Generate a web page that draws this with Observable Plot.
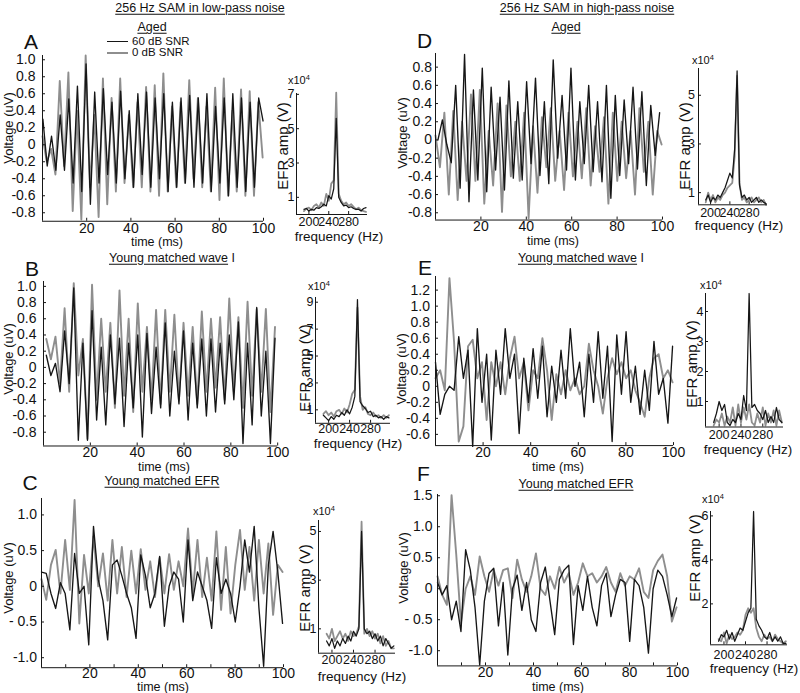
<!DOCTYPE html>
<html><head><meta charset="utf-8">
<script src="https://cdn.jsdelivr.net/npm/d3@7"></script>
<script src="https://cdn.jsdelivr.net/npm/@observablehq/plot@0.6"></script>
<style>
body{margin:0;background:#fff;}
#fig{position:relative;width:800px;height:693px;overflow:hidden;background:#fff;font-family:"Liberation Sans",Arial,Helvetica,sans-serif;color:#111;}
.t{position:absolute;white-space:nowrap;line-height:1;}
.u{text-decoration:underline;text-underline-offset:2px;}
svg{overflow:visible;}
</style></head><body><div id="fig"></div>
<script>
// ---------- DATA ----------
const STEP_MS = 1000 / 512;           // sample spacing of the traces (ms)
const TIME_DOMAIN = [0, 100];
const TIME_TICKS = [20, 40, 60, 80, 100];
const TIME_TICKS_MINOR = [10, 20, 30, 40, 50, 60, 70, 80, 90, 100];

// A: aged, low-pass noise
const agedLow60_t0 = 0.18;
const agedLow60 = [0.3,-0.25,0.1,-0.3,0.35,-0.3,0.54,-0.45,0.69,-0.55,0.95,-0.7,0.62,-0.45,0.66,-0.35,0.5,-0.45,0.63,-0.4,0.4,-0.5,0.6,-0.35,0.62,-0.5,0.55,-0.4,0.6,-0.55,0.5,-0.5,0.55,-0.45,0.58,-0.5,0.55,-0.45,0.6,-0.55,0.45,-0.45,0.55,-0.6,0.6,-0.5,0.55,-0.55,0.5,-0.5,0.55,0.28];
const agedLow0_t0 = 0;
const agedLow0 = [0.1,-0.2,-0.05,-0.35,0.75,-0.25,0.85,-0.78,0.4,-0.88,1.05,-0.5,0.35,-0.85,0.78,-0.7,0.55,-0.55,0.78,-0.45,0.35,-0.5,0.5,-0.5,0.68,-0.55,0.7,-0.6,0.84,-0.55,0.45,-0.5,0.5,-0.45,0.76,-0.4,0.55,-0.5,0.45,-0.55,0.67,-0.65,0.78,-0.6,0.4,-0.55,0.65,-0.6,0.63,-0.6,0.5,-0.15];

// B: young matched wave I, low-pass noise
const youngWaveLow60_t0 = 1.2;
const youngWaveLow60 = [0.15,-0.1,0.05,-0.3,0.45,-0.2,0.98,-0.9,0.3,-0.9,0.7,-0.65,0.25,-0.71,0.4,-0.45,0.36,-0.73,0.3,-0.5,0.4,-0.86,0.42,-0.57,0.25,-0.5,0.55,-0.6,0.2,-0.45,0.45,-0.65,0.3,-0.5,0.35,-0.6,0.35,-0.55,0.3,-0.45,0.4,-0.4,0.56,-0.94,0.3,-0.71,0.74,-0.6,0.2,-0.94,0.36];
const youngWaveLow0_t0 = 1.2;
const youngWaveLow0 = [0.35,0.1,0.38,-0.2,0.73,-0.3,1.04,-0.1,0.35,-0.88,1.02,-0.4,0.6,-0.3,0.55,-0.5,0.95,-0.35,0.6,-0.55,0.79,-0.3,0.5,-0.4,0.71,-0.45,0.71,-0.3,0.65,-0.4,0.55,-0.35,0.5,-0.45,0.69,-0.3,0.6,-0.25,0.62,-0.4,0.85,-0.3,0.62,-0.5,0.81,-0.35,0.72,-0.3,0.72,-0.55,0.5];

// C: young matched EFR, low-pass noise
const youngEfrLow60_t0 = 0;
const youngEfrLow60 = [0.2,0.18,-0.1,-0.31,0.05,-0.1,-0.61,0.46,-0.1,0.0,-0.82,0.84,0.1,-0.2,-0.75,0.3,0.37,0.15,-0.1,-0.3,-0.73,0.44,0.15,-0.3,-0.1,0.42,-0.56,0.0,0.2,0.1,-0.5,0.65,-0.2,0.2,0.0,-0.2,-0.59,0.4,-0.1,0.1,-0.1,-0.5,0.0,0.65,0.2,0.84,-0.3,-1.12,0.3,0.77,0.2,-0.52];
const youngEfrLow0_t0 = 0;
const youngEfrLow0 = [0.1,-0.19,0.3,0.51,-0.1,0.65,-0.05,1.21,-0.52,0.44,-0.1,0.7,0.0,0.46,-0.2,0.65,-0.1,0.55,-0.15,0.5,-0.1,0.52,-0.05,0.35,-0.15,0.4,-0.1,0.45,-0.05,0.35,0.0,0.81,-0.1,0.65,-0.15,0.4,-0.2,0.77,-0.33,0.55,-0.38,0.3,0.79,-0.05,0.55,-0.2,0.65,-0.1,0.6,-0.4,0.3,0.2];

// D: aged, high-pass noise
const agedHigh60_t0 = 1.08;
const agedHigh60 = [0.0,0.22,-0.05,-0.25,0.6,-0.53,0.94,-0.68,0.55,-0.44,0.79,-0.57,0.58,-0.33,0.47,-0.55,0.65,-0.42,0.42,-0.44,0.64,-0.26,0.68,-0.39,0.42,-0.48,0.88,-0.2,0.49,-0.33,0.79,-0.44,0.42,-0.26,0.6,-0.35,0.42,-0.46,0.6,-0.64,0.49,-0.39,0.44,-0.26,0.58,-0.32,0.53,-0.5,0.38,-0.17,0.3];
const agedHigh0_t0 = 0;
const agedHigh0 = [0.05,-0.3,0.3,-0.6,0.32,-0.66,0.2,-0.45,0.5,-0.45,0.55,-0.7,0.1,-0.5,0.4,-0.79,0.38,-0.4,0.2,-0.45,0.3,-0.86,0.15,-0.58,0.25,-0.3,0.35,-0.45,0.1,-0.55,0.3,-0.4,0.2,-0.42,0.35,-0.5,0.15,-0.35,0.25,-0.7,0.3,-0.45,0.2,-0.42,0.1,-0.6,0.35,-0.35,0.2,-0.6,0.1,-0.05];

// E: young matched wave I, high-pass noise
const youngWaveHigh60_t0 = 0;
const youngWaveHigh60 = [0.3,-0.35,-0.1,0.0,-0.05,0.62,0.1,0.45,-0.75,0.72,-0.2,0.4,-0.67,0.45,-0.1,0.72,0.1,0.4,-0.59,0.35,-0.2,0.47,-0.15,0.5,-0.38,0.25,-0.2,0.45,-0.15,0.72,0.0,0.3,-0.38,0.4,-0.2,0.68,-0.15,0.5,-0.69,0.64,-0.1,0.68,-0.2,0.25,-0.35,0.2,-0.3,0.56,-0.1,0.1,-0.46,0.5];
const youngWaveHigh0_t0 = 0;
const youngWaveHigh0 = [0.1,0.2,-0.05,1.35,0.55,-0.69,-0.5,0.5,0.58,0.1,0.3,-0.42,0.3,0.0,0.3,-0.1,0.35,0.62,0.1,0.3,-0.3,0.2,0.1,0.6,0.2,-0.42,0.15,-0.1,0.2,-0.05,0.1,-0.1,0.0,0.53,0.2,0.0,-0.34,0.1,0.35,0.15,0.3,0.1,0.2,-0.05,-0.2,-0.38,0.1,0.35,0.4,0.1,0.2,0.05];

// F: young matched EFR, high-pass noise
const youngEfrHigh60_t0 = 0;
const youngEfrHigh60 = [0.1,-0.1,0.05,-0.5,-0.2,-0.69,0.63,0.3,-0.3,-1.23,-0.2,0.25,0.33,-0.6,0.1,-1.07,0.0,0.22,-0.35,0.1,-0.5,-0.69,0.1,0.35,-0.2,-0.74,0.15,0.3,0.38,-0.9,0.05,-0.35,0.2,-0.3,-0.6,0.05,0.25,-0.45,-0.1,0.15,0.1,-0.85,0.15,0.05,-0.3,-1.04,0.0,0.3,0.2,-0.1,-0.45,-0.15];
const youngEfrHigh0_t0 = 0;
const youngEfrHigh0 = [0.2,-0.1,-0.26,1.51,0.55,-0.55,0.0,0.2,-0.1,0.52,0.2,-0.05,0.3,0.05,0.3,0.33,-0.15,0.47,0.15,-0.05,0.2,0.57,0.0,-0.1,0.2,0.0,0.35,0.1,0.25,-0.1,0.1,0.41,0.2,0.25,0.1,0.2,0.35,0.1,-0.05,0.25,0.05,0.2,0.15,0.33,-0.05,-0.15,0.3,0.45,0.55,0.2,-0.53,-0.3];

// Spectra (EFR amplitude, x10^4 V)
const freqHz = [190,195,200,205,210,215,220,225,230,235,240,245,250,255,260,265,270,275,280,285,290,295,300,305,310,315];
const FREQ_DOMAIN = [175, 318];
const FREQ_TICKS = [200, 240, 280];
const specA60 = [0.3,0.35,0.2,0.3,0.25,0.4,0.35,0.45,0.6,0.5,1.1,0.9,1.5,5.6,1.0,0.7,0.5,0.55,0.4,0.45,0.35,0.3,0.3,0.2,0.35,0.4];
const specA0  = [0.2,0.35,0.4,0.25,0.5,0.6,0.4,0.7,0.5,1.2,0.8,1.8,2.0,7.1,1.2,0.8,0.6,0.7,0.5,0.6,0.45,0.3,0.4,0.25,0.2,0.15];
const specB60 = [0.6,0.4,0.2,0.5,0.3,0.6,0.5,0.8,0.6,1.0,0.7,1.2,2.0,9.2,1.6,1.3,1.1,0.8,0.9,0.5,0.6,0.4,0.5,0.3,0.5,0.4];
const specB0  = [0.7,0.9,0.6,0.8,0.5,0.9,1.0,0.7,1.1,0.8,1.4,2.2,2.5,8.6,2.0,1.0,1.2,0.7,0.6,0.8,0.5,0.6,0.4,0.6,0.4,0.6];
const specC60 = [0.5,0.3,0.6,0.2,0.5,0.3,0.6,0.4,0.7,0.5,0.9,0.7,1.0,5.0,1.0,0.8,0.9,0.6,0.8,0.5,0.7,0.3,0.6,0.4,0.2,0.3];
const specC0  = [0.8,0.6,1.0,0.5,0.7,0.9,0.6,0.8,0.5,0.9,0.7,0.8,1.1,5.4,0.8,1.0,0.7,0.9,0.6,0.8,0.4,0.7,0.3,0.5,0.2,0.2];
const specD60 = [0.7,0.9,0.6,0.8,0.7,0.9,0.8,1.0,1.2,1.5,1.8,1.6,2.8,6.0,1.3,0.8,0.9,0.7,0.8,0.6,0.7,0.8,0.6,0.7,0.6,0.55];
const specD0  = [0.6,1.0,0.7,0.9,0.6,0.8,0.7,0.9,1.0,1.2,1.3,1.4,2.5,5.8,1.4,0.7,0.8,0.6,0.7,0.8,0.6,0.7,0.8,0.6,0.7,0.5];
const specE60 = [0.3,0.6,1.0,0.7,0.9,0.3,0.2,0.4,0.3,0.6,0.4,1.2,0.7,4.6,0.8,0.9,0.7,0.6,0.4,0.7,0.3,0.5,0.3,0.8,0.4,0.3];
const specE0  = [0.2,0.4,0.3,0.6,0.2,0.5,0.3,0.8,0.2,0.9,0.3,0.8,0.4,0.9,0.3,0.2,0.6,0.3,0.8,0.2,0.6,0.3,0.7,0.2,0.7,0.3];
const specF60 = [0.3,0.6,0.5,0.8,0.4,0.7,0.3,0.6,0.9,0.8,1.2,1.6,1.8,6.2,1.3,1.0,0.8,0.5,0.4,0.7,0.3,0.5,0.3,0.5,0.2,0.2];
const specF0  = [0.4,0.3,0.7,0.2,0.6,0.4,0.5,0.7,0.6,0.8,1.5,1.8,1.6,1.8,0.9,0.5,0.3,0.6,0.4,0.5,0.3,0.6,0.4,0.3,0.2,0.3];

// Tick values and labels
const voltTicks10 = [-0.8,-0.6,-0.4,-0.2,0,0.2,0.4,0.6,0.8,1.0];
const voltLabels10 = ["-0.8","-0.6","-0.4","-0.2","0","0.2","0.4","0.6","0.8","1.0"];
const voltTicksD = [-0.8,-0.6,-0.4,-0.2,0,0.2,0.4,0.6,0.8];
const voltLabelsD = ["-0.8","-0.6","-0.4","-0.2","0","0.2","0.4","0.6","0.8"];
const voltTicksE = [-0.6,-0.4,-0.2,0,0.2,0.4,0.6,0.8,1.0,1.2];
const voltLabelsE = ["-0.6","-0.4","-0.2","0","0.2","0.4","0.6","0.8","1.0","1.2"];
const voltTicksC = [-1.0,-0.5,0,0.5,1.0];
const voltLabelsC = ["-1.0","- 0.5","0","0.5","1.0"];
const voltTicksF = [-1.0,-0.5,0,0.5,1.0,1.5];
const voltLabelsF = ["-1.0","- 0.5","0","0.5","1.0","1.5"];

// ---------- DRAWING ----------
const FONT = '"Liberation Sans", Arial, Helvetica, sans-serif';
const BLACK = "#161616", GRAY = "#8e8e8e";
const fig = document.getElementById("fig");

function addText(html, x, y, size, opt = {}) {
  const d = document.createElement("div");
  d.className = "t" + (opt.cls ? " " + opt.cls : "");
  d.innerHTML = html;
  d.style.fontSize = size + "px";
  d.style.left = x + "px";
  d.style.top = y + "px";
  const tx = opt.anchor === "start" ? "0" : opt.anchor === "end" ? "-100%" : "-50%";
  d.style.transform = `translate(${tx},-50%)` + (opt.rotate ? " rotate(-90deg)" : "");
  fig.appendChild(d);
}
function place(svg, x, y) {
  svg.style.position = "absolute";
  svg.style.left = x + "px";
  svg.style.top = y + "px";
  fig.appendChild(svg);
}
const traceRows = (values, t0) => values.map((v, i) => ({t: t0 + i * STEP_MS, v}));

function drawWave(p) {
  const mL = 50, mR = 10, mT = 5, mB = 25;
  const pw = p.right - p.left, ph = p.bottom - p.top;
  const fmt = new Map(p.yTicks.map((d, i) => [d, p.yLabels[i]]));
  const svg = Plot.plot({
    width: pw + mL + mR, height: ph + mT + mB,
    marginLeft: mL, marginRight: mR, marginTop: mT, marginBottom: mB,
    style: {fontFamily: FONT, fontSize: "14px", color: "#111", background: "none", overflow: "visible"},
    x: {domain: TIME_DOMAIN},
    y: {domain: p.yDomain},
    marks: [
      Plot.line(traceRows(p.gray, p.grayT0), {x: "t", y: "v", stroke: GRAY, strokeWidth: 1.9}),
      Plot.line(traceRows(p.black, p.blackT0), {x: "t", y: "v", stroke: BLACK, strokeWidth: 1.35}),
      Plot.ruleX([TIME_DOMAIN[0]], {stroke: BLACK}),
      Plot.ruleY([p.yDomain[0]], {stroke: BLACK}),
      Plot.ruleX(p.xMarks, {insetTop: ph - 3, stroke: BLACK}),
      Plot.ruleY(p.yTicks, {insetRight: pw - 3, stroke: BLACK}),
      Plot.axisX(TIME_TICKS, {tickSize: 0, tickPadding: p.xPad, label: null, tickFormat: d => String(d)}),
      Plot.axisY(p.yTicks, {tickSize: 0, tickPadding: p.yPad, label: null, tickFormat: d => fmt.get(d)})
    ]
  });
  place(svg, p.left - mL, p.top - mT);
}

function drawSpec(p) {
  const mL = 20, mR = 8, mT = 5, mB = 20;
  const pw = p.right - p.left, ph = p.bottom - p.top;
  const rows = a => freqHz.map((f, i) => ({f, a: a[i]}));
  const svg = Plot.plot({
    width: pw + mL + mR, height: ph + mT + mB,
    marginLeft: mL, marginRight: mR, marginTop: mT, marginBottom: mB,
    style: {fontFamily: FONT, fontSize: "12.5px", color: "#111", background: "none", overflow: "visible"},
    x: {domain: FREQ_DOMAIN},
    y: {domain: p.yDomain},
    marks: [
      Plot.line(rows(p.gray), {x: "f", y: "a", stroke: GRAY, strokeWidth: 1.8}),
      Plot.line(rows(p.black), {x: "f", y: "a", stroke: BLACK, strokeWidth: 1.25}),
      Plot.ruleX([FREQ_DOMAIN[0]], {stroke: BLACK}),
      Plot.ruleY([p.yDomain[0]], {stroke: BLACK}),
      Plot.ruleX(FREQ_TICKS, {insetTop: ph - 3, stroke: BLACK}),
      Plot.ruleY(p.yTicks, {insetRight: pw - 3, stroke: BLACK}),
      Plot.axisX(FREQ_TICKS, {tickSize: 0, tickPadding: p.xPad, label: null, tickFormat: d => String(d)}),
      Plot.axisY(p.yTicks, {tickSize: 0, tickPadding: p.yPad, label: null, tickFormat: d => String(d)})
    ]
  });
  place(svg, p.left - mL, p.top - mT);
  addText('x10<sup style="font-size:7.5px;vertical-align:4px">4</sup>', p.x10[0], p.x10[1], 11, {anchor: "start"});
  addText("EFR amp (V)", p.efr[0], p.efr[1], 15, {rotate: true});
  addText("frequency (Hz)", p.freq[0], p.freq[1], 13.5);
}

const waves = [
  {black: agedLow60, blackT0: agedLow60_t0, gray: agedLow0, grayT0: agedLow0_t0,
   left: 42, right: 263, top: 54.75, bottom: 220.5, yDomain: [-0.9, 1.05],
   yTicks: voltTicks10, yLabels: voltLabels10, xMarks: TIME_TICKS, xPad: 1.5, yPad: 7,
   volt: [8, 128], time: [157, 242]},
  {black: youngWaveLow60, blackT0: youngWaveLow60_t0, gray: youngWaveLow0, grayT0: youngWaveLow0_t0,
   left: 42.5, right: 276.7, top: 281.1, bottom: 445.6, yDomain: [-0.97, 1.06],
   yTicks: voltTicks10, yLabels: voltLabels10, xMarks: TIME_TICKS, xPad: 1, yPad: 7,
   volt: [8, 359], time: [164, 466.5]},
  {black: youngEfrLow60, blackT0: youngEfrLow60_t0, gray: youngEfrLow0, grayT0: youngEfrLow0_t0,
   left: 41, right: 283, top: 498.2, bottom: 667.4, yDomain: [-1.14, 1.23],
   yTicks: voltTicksC, yLabels: voltLabelsC, xMarks: TIME_TICKS_MINOR, xPad: 0.5, yPad: 4.5,
   volt: [8, 578], time: [163, 687.2]},
  {black: agedHigh60, blackT0: agedHigh60_t0, gray: agedHigh0, grayT0: agedHigh0_t0,
   left: 435, right: 662, top: 53.05, bottom: 219.6, yDomain: [-0.88, 0.95],
   yTicks: voltTicksD, yLabels: voltLabelsD, xMarks: TIME_TICKS, xPad: 1, yPad: 3.5,
   volt: [402, 133], time: [553, 240.5]},
  {black: youngWaveHigh60, blackT0: youngWaveHigh60_t0, gray: youngWaveHigh0, grayT0: youngWaveHigh0_t0,
   left: 435, right: 673, top: 276.4, bottom: 445.5, yDomain: [-0.74, 1.37],
   yTicks: voltTicksE, yLabels: voltLabelsE, xMarks: TIME_TICKS, xPad: 1, yPad: 5.5,
   volt: [401, 369], time: [558, 466.5]},
  {black: youngEfrHigh60, blackT0: youngEfrHigh60_t0, gray: youngEfrHigh0, grayT0: youngEfrHigh0_t0,
   left: 437, right: 677, top: 494.4, bottom: 665.8, yDomain: [-1.245, 1.52],
   yTicks: voltTicksF, yLabels: voltLabelsF, xMarks: TIME_TICKS_MINOR, xPad: 1, yPad: 5,
   volt: [403, 568], time: [558, 686.5]}
];
waves.forEach(p => {
  drawWave(p);
  addText("Voltage (uV)", p.volt[0], p.volt[1], 13, {rotate: true});
  addText("time (ms)", p.time[0], p.time[1], 12.5);
});

const specs = [
  {black: specA60, gray: specA0, left: 296, right: 367, top: 93, bottom: 214, yDomain: [0, 7.05], yTicks: [1,3,5,7],
   xPad: 3, yPad: 2, x10: [288, 80], efr: [282, 146], freq: [339, 237]},
  {black: specB60, gray: specB0, left: 315, right: 390, top: 296.9, bottom: 422.7, yDomain: [0, 9.35], yTicks: [1,3,5,7,9],
   xPad: 1, yPad: 2, x10: [308, 286], efr: [304, 368], freq: [358, 443.5]},
  {black: specC60, gray: specC0, left: 318, right: 395, top: 520, bottom: 652.7, yDomain: [0, 5.45], yTicks: [1,3,5],
   xPad: 1.5, yPad: 2, x10: [313, 511], efr: [304, 588], freq: [362, 677]},
  {black: specD60, gray: specD0, left: 698, right: 767, top: 67.5, bottom: 203.8, yDomain: [0.5, 6.1], yTicks: [1,3,5],
   xPad: 3, yPad: 3.5, x10: [692, 60], efr: [684, 146], freq: [739, 226]},
  {black: specE60, gray: specE0, left: 705, right: 783, top: 293, bottom: 426.5, yDomain: [0.15, 4.6], yTicks: [1,2,3,4],
   xPad: 3.5, yPad: 2, x10: [700, 285], efr: [691, 364], freq: [748, 450]},
  {black: specF60, gray: specF0, left: 710, right: 787, top: 510.9, bottom: 644.2, yDomain: [0.14, 6.2], yTicks: [2,4,6],
   xPad: 5, yPad: 2, x10: [702, 499], efr: [694, 558], freq: [754, 669]}
];
specs.forEach(drawSpec);

// Titles, panel letters, legend
addText('<span class="u">256 Hz SAM in low-pass noise</span>', 200, 8, 12.5);
addText('<span class="u">256 Hz SAM in high-pass noise</span>', 587, 8, 12.5);
addText('<span class="u">Aged</span>', 152, 27, 12.5);
addText('<span class="u">Aged</span>', 566, 27, 12.5);
addText('<span class="u">Young matched wave</span> I', 172, 257.5, 12.5);
addText('<span class="u">Young matched wave</span> I', 581, 257.5, 12.5);
addText('<span class="u">Young matched EFR</span>', 162, 480.5, 12.5);
addText('<span class="u">Young matched EFR</span>', 576, 484, 12.5);
[["A", 31, 40.5], ["B", 32, 267.5], ["C", 30, 481.5], ["D", 424.5, 40], ["E", 425, 266.5], ["F", 423.5, 472.5]]
  .forEach(([s, x, y]) => addText(s, x, y, 21));

function legendLine(x, y, w, color, thick) {
  const d = document.createElement("div");
  d.style.cssText = `position:absolute;left:${x}px;top:${y - thick / 2}px;width:${w}px;height:${thick}px;background:${color};`;
  fig.appendChild(d);
}
legendLine(107, 41.5, 21, BLACK, 1.8);
legendLine(107, 52.8, 21, GRAY, 2.2);
addText("60 dB SNR", 132, 41.5, 11.5, {anchor: "start"});
addText("0 dB SNR", 132, 53, 11.5, {anchor: "start"});
</script></body></html>
